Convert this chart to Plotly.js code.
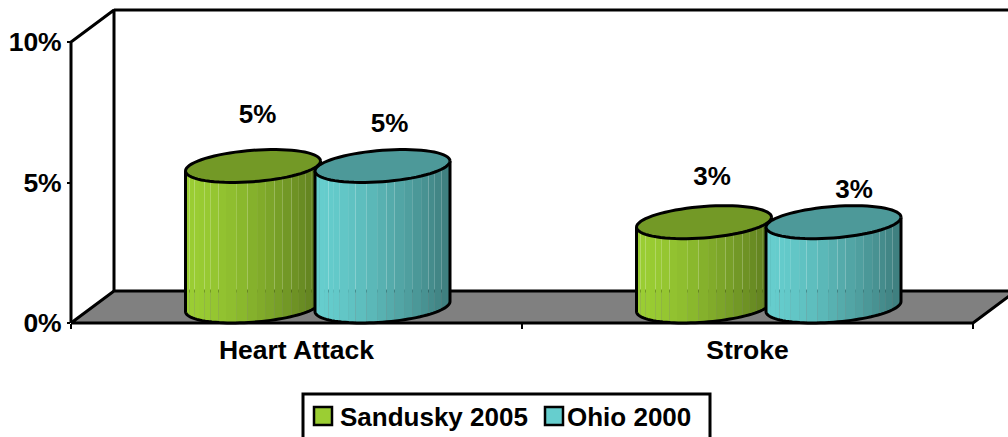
<!DOCTYPE html>
<html>
<head>
<meta charset="utf-8">
<script src="https://cdn.plot.ly/plotly-3.0.1.min.js"></script>
<style>html,body{margin:0;padding:0;background:#fff;overflow:hidden}</style>
</head>
<body>
<div id="chart" style="width:1008px;height:437px"></div>
<script>
// Chart data
const categories = ['Heart Attack', 'Stroke'];
const sandusky2005 = [5, 3];
const ohio2000 = [5, 3];
const seriesNames = ['Sandusky 2005', 'Ohio 2000'];
const yTickValues = [0, 5, 10];

// Front plane of the box, in pixels
const W = 1008, H = 437;
const F = {l: 71, r: 973, t: 42, b: 323};
const unitX = (F.r - F.l) / 2;           // pixels per category slot
const unitY = (F.b - F.t) / 10;          // pixels per percentage point
const px = v => v / unitX;               // horizontal pixels to axis units
const py = v => v / unitY;               // vertical pixels to axis units

// Oblique depth of the box
const depthX = px(43), depthY = py(32);

// Cylinder proportions
const radiusX = px(67.5);                // half width
const radiusY = py(15.7);                // half height of the cap
const tilt = py(5);                      // right rim sits higher than the left
const baseY = py(16.5);                  // centre of the base ellipse above zero
const barShift = [px(-43.5), px(86)];    // centre offset from the category tick

// Facet edges of the cylinder wall, as fractions of its width
const facetEdges = [0, 0.03, 0.067, 0.10, 0.14, 0.184, 0.245, 0.30, 0.38, 0.46, 0.53, 0.59, 0.66, 0.72, 0.786, 0.84, 0.887, 0.936, 1];

const palettes = [
  {light: [155, 206, 51], cap: '#739926'},
  {light: [102, 206, 206], cap: '#4d9999'}
];
const labelShift = [
  [[5.5, 49.5], [8, 40.5]],
  [[9, 44], [21.5, 30.5]]
];

const ARIAL = 'Liberation Sans, Arial, sans-serif';
const FONT = {family: ARIAL, size: 26, color: '#000', weight: 700};
const traces = [];

function poly(xs, ys, fill, lineWidth) {
  traces.push({
    type: 'scatter', mode: 'lines', x: xs, y: ys, xaxis: 'x2', yaxis: 'y2',
    fill: fill ? 'toself' : 'none', fillcolor: fill || undefined,
    line: {color: '#000', width: lineWidth || 0, simplify: false},
    showlegend: false, hoverinfo: 'skip'
  });
}

// Point on an ellipse of the cylinder at angle t
const rim = (cx, cy, t) => [cx + radiusX * Math.cos(t), cy + radiusY * Math.sin(t) + tilt * Math.cos(t)];

function arc(cx, cy, from, to, n) {
  const xs = [], ys = [];
  for (let i = 0; i <= n; i++) {
    const p = rim(cx, cy, from + (to - from) * i / n);
    xs.push(p[0]); ys.push(p[1]);
  }
  return [xs, ys];
}

function shade(rgb, frac) {
  const k = 1 - 0.40 * Math.pow(frac, 1.5);
  return 'rgb(' + rgb.map(c => Math.round(c * k)).join(',') + ')';
}

// Angle on the front of the rim for a fraction of the width
const frontAngle = frac => 2 * Math.PI - Math.acos(2 * frac - 1);

// Body: vertical facets running across the front of the cylinder
function body(cx, value, pal) {
  const top = value + baseY;
  for (let s = 0; s < facetEdges.length - 1; s++) {
    const a = frontAngle(facetEdges[s]), b = frontAngle(facetEdges[s + 1]);
    const upper = arc(cx, top, a, b, 4);
    const lower = arc(cx, baseY, b, a, 4);
    poly(upper[0].concat(lower[0]), upper[1].concat(lower[1]), shade(pal.light, (facetEdges[s] + facetEdges[s + 1]) / 2));
  }
  // Outline of the side walls and the front of the base
  const front = arc(cx, baseY, Math.PI, 2 * Math.PI, 48);
  const l = rim(cx, top, Math.PI), r = rim(cx, top, 0);
  poly([l[0]].concat(front[0], [r[0]]), [l[1]].concat(front[1], [r[1]]), null, 3);
}

function cap(cx, value, pal) {
  const e = arc(cx, value + baseY, 0, 2 * Math.PI, 72);
  poly(e[0], e[1], pal.cap, 3);
}

// Floor, back wall and front edges of the box
const xLo = -0.5, xHi = 1.5;
poly([xLo, xLo + depthX, xHi + depthX, xHi, xLo], [0, depthY, depthY, 0, 0], '#808080', 3);
poly([xLo, xLo, xLo + depthX, xLo + depthX], [0, 10, 10 + depthY, depthY], null, 3);
poly([xLo + depthX, xHi + depthX], [10 + depthY, 10 + depthY], null, 3);

// Cylinders: the neighbour's cap overlaps, so the first series' cap goes last
categories.forEach((c, i) => {
  const a = i + barShift[0], b = i + barShift[1];
  body(a, sandusky2005[i], palettes[0]);
  body(b, ohio2000[i], palettes[1]);
  cap(b, ohio2000[i], palettes[1]);
  cap(a, sandusky2005[i], palettes[0]);
});

// Value labels
categories.forEach((c, i) => {
  [sandusky2005, ohio2000].forEach((series, s) => {
    const shift = labelShift[i][s];
    traces.push({
      type: 'scatter', mode: 'text', xaxis: 'x2', yaxis: 'y2',
      x: [i + barShift[s] + px(shift[0]) - px(1)],
      y: [series[i] + baseY + py(shift[1])],
      text: [series[i] + '%'], textposition: 'middle center',
      textfont: FONT, cliponaxis: false, showlegend: false, hoverinfo: 'skip'
    });
  });
});

// Key below the chart, in page fractions
const fx = v => v / W, fy = v => 1 - v / H;
const keyBox = {x0: 303, x1: 710, y0: 394, y1: 450};
const keySwatches = [[314, 332], [545, 563]];
const keyTextX = [337.5, 565];
const shapes = [{
  type: 'rect', xref: 'paper', yref: 'paper',
  x0: fx(keyBox.x0), x1: fx(keyBox.x1), y0: fy(keyBox.y0), y1: fy(keyBox.y1),
  line: {color: '#000', width: 3}, fillcolor: '#fff'
}];
const annotations = [];
seriesNames.forEach((name, s) => {
  shapes.push({
    type: 'rect', xref: 'paper', yref: 'paper',
    x0: fx(keySwatches[s][0]), x1: fx(keySwatches[s][1]), y0: fy(407), y1: fy(425),
    line: {color: '#000', width: 2.5},
    fillcolor: 'rgb(' + palettes[s].light.join(',') + ')'
  });
  annotations.push({
    xref: 'paper', yref: 'paper', x: fx(keyTextX[s]), y: fy(417),
    xanchor: 'left', yanchor: 'middle', showarrow: false, text: name, font: FONT
  });
});

const AXIS_FONT = {family: ARIAL, size: 26.5, color: '#000', weight: 700};

// A second pair of axes spans the page so the box can extend past the front plane
const layout = {
  width: W, height: H,
  margin: {l: 0, r: 0, t: 0, b: 0, pad: 0, autoexpand: false},
  paper_bgcolor: '#fff', plot_bgcolor: 'rgba(0,0,0,0)',
  font: FONT, hovermode: false, showlegend: false,
  shapes: shapes, annotations: annotations,
  xaxis: {
    domain: [fx(F.l), fx(F.r)], range: [xLo, xHi], fixedrange: true, anchor: 'y',
    tickmode: 'array', tickvals: categories.map((c, i) => i), ticktext: categories,
    ticks: '', showgrid: false, zeroline: false, showline: false,
    ticklabelstandoff: 8, ticklabelshift: -1.5, tickfont: AXIS_FONT,
    minor: {tickmode: 'array', tickvals: [-0.5, 0.5, 1.5], ticks: 'outside', ticklen: 5, tickwidth: 2, tickcolor: '#000', showgrid: false}
  },
  yaxis: {
    domain: [fy(F.b), fy(F.t)], range: [0, 10], fixedrange: true, anchor: 'x',
    tickmode: 'array', tickvals: yTickValues, ticktext: yTickValues.map(v => v + '%'),
    ticks: 'outside', ticklen: 3, tickwidth: 2, tickcolor: '#000',
    showgrid: false, zeroline: false, showline: false, tickfont: AXIS_FONT
  },
  xaxis2: {
    domain: [0, 1], visible: false, fixedrange: true, anchor: 'y2',
    range: [xLo - px(F.l), xHi + px(W - F.r)]
  },
  yaxis2: {
    domain: [0, 1], visible: false, fixedrange: true, anchor: 'x2',
    range: [-py(H - F.b), 10 + py(F.t)]
  }
};

// An empty trace keeps the labelled axes on the chart
traces.unshift({type: 'scatter', mode: 'none', x: [0, 1], y: [0, 10], xaxis: 'x', yaxis: 'y', showlegend: false, hoverinfo: 'skip'});

Plotly.newPlot('chart', traces, layout, {displayModeBar: false, staticPlot: true});
</script>
</body>
</html>
